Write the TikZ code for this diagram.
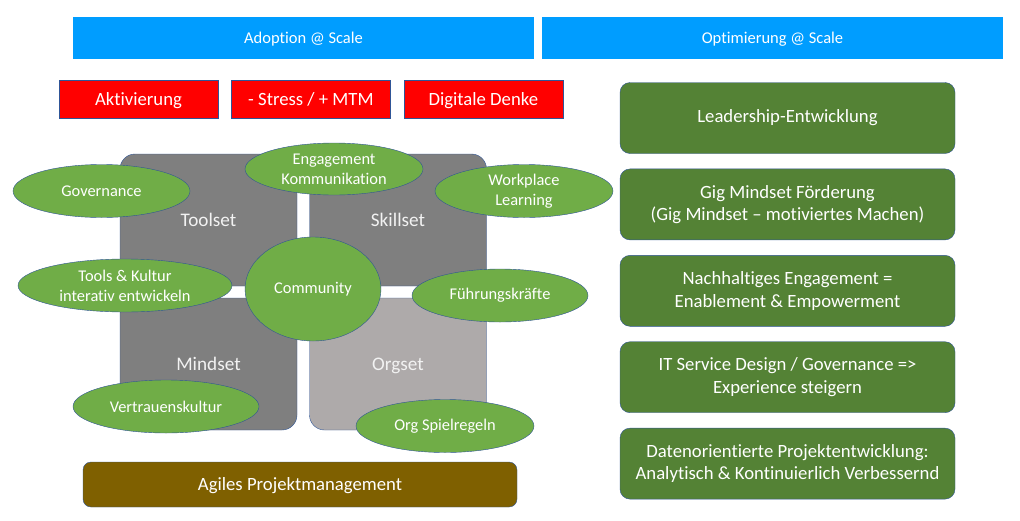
\documentclass[tikz,border=0pt]{standalone}
\usepackage{fontspec}
\setmainfont{Carlito}[Ligatures=NoCommon]
\usepackage{tikz}
\usetikzlibrary{positioning,shapes.geometric}
\definecolor{scaleblue}{HTML}{009DFF}
\definecolor{alarmred}{HTML}{FF0000}
\definecolor{edgeblue}{HTML}{2F5597}
\definecolor{quaddark}{HTML}{7F7F7F}
\definecolor{quadlight}{HTML}{AEAAAA}
\definecolor{ovalgreen}{HTML}{70AD47}
\definecolor{deepgreen}{HTML}{548235}
\definecolor{agilebrown}{HTML}{7F6000}

\begin{document}
\begin{tikzpicture}[
 x=1pt,y=-1pt,
 node distance=15pt and 13pt,
 oneline/.style={text height=#1,text depth=1.5pt},
 bar/.style={rectangle,oneline=12.1pt,fill=scaleblue,text=white,minimum width=461pt,minimum height=42pt,inner sep=0pt,font=\fontsize{16.5}{19}\selectfont},
 redbox/.style={rectangle,oneline=13.5pt,draw=edgeblue,fill=alarmred,text=white,minimum width=159pt,minimum height=38pt,inner sep=0pt,font=\fontsize{18.7}{22}\selectfont},
 quad/.style={rectangle,oneline=13.8pt,rounded corners=15pt,draw=edgeblue,fill=quaddark,text=white!95!black,minimum width=177pt,minimum height=132pt,inner sep=0pt,font=\fontsize{19.2}{22}\selectfont},
 oval/.style={ellipse,draw=edgeblue,fill=ovalgreen,text=white,align=center,inner sep=0pt,minimum width=178pt,minimum height=53pt,font=\fontsize{16.4}{20}\selectfont},
 goal/.style={rectangle,rounded corners=10pt,draw=edgeblue,fill=deepgreen,text=white,align=center,minimum width=335pt,minimum height=71pt,inner sep=0pt,font=\fontsize{18.7}{22.5}\selectfont},
 base/.style={rectangle,oneline=13.5pt,rounded corners=8pt,draw=edgeblue,fill=agilebrown,text=white,minimum width=434pt,minimum height=45pt,inner sep=0pt,font=\fontsize{18.7}{22}\selectfont}
]
\useasboundingbox (0,0) rectangle (1020,520);

% top bars
\node[bar] (adopt) at (303.5,38) {Adoption @ Scale};
\node[bar] (optim) at (772.5,38) {Optimierung @ Scale};

% red row
\node[redbox] (aktiv) at (138.5,99) {Aktivierung};
\node[redbox,right=of aktiv] (stress) {- Stress / + MTM};
\node[redbox,right=of stress] (denke) {Digitale Denke};

% quadrants
\node[quad] (toolset) at (208.5,220) {Toolset};
\node[quad] (skillset) at (398,220) {Skillset};
\node[quad] (mindset) at (208.5,364) {Mindset};
\node[quad,fill=quadlight] (orgset) at (398,364) {Orgset};

% ovals
\node[oval,minimum width=177pt] (gov) at (101.5,191) {Governance};
\node[oval,minimum width=178pt,minimum height=52pt] (engage) at (334,169) {Engagement\\Kommunikation};
\node[oval] (workplace) at (524,191) {Workplace\\Learning};
\node[oval,minimum width=214pt] (kultur) at (125,285.5) {Tools \& Kultur\\interativ entwickeln};
\node[oval,minimum width=136pt,minimum height=104pt] (community) at (313,289) {Community};
\node[oval,minimum width=176pt] (fuehrung) at (500,295.5) {Führungskräfte};
\node[oval,minimum width=186pt] (vertrauen) at (166,406.5) {Vertrauenskultur};
\node[oval] (spielregeln) at (445,426) {Org Spielregeln};

% right column
\node[goal] (leader) at (787.5,118) {Leadership-Entwicklung};
\node[goal,below=of leader] (gig) {Gig Mindset Förderung\\(Gig Mindset -- motiviertes Machen)};
\node[goal,below=of gig] (nachhalt) {Nachhaltiges Engagement =\\Enablement \& Empowerment};
\node[goal,below=of nachhalt] (itservice) {IT Service Design / Governance =>\\Experience steigern};
\node[goal,below=of itservice] (daten) {Datenorientierte Projektentwicklung:\\Analytisch \& Kontinuierlich Verbessernd};

% bottom
\node[base] (agile) at (300,484.5) {Agiles Projektmanagement};
\end{tikzpicture}
\end{document}
